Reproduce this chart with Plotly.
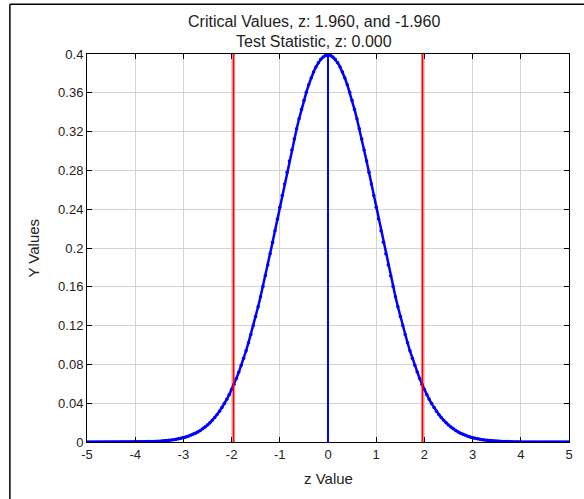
import plotly.graph_objects as go

# z grid and standard normal density
z_values = [
    -5.00, -4.95, -4.90, -4.85, -4.80, -4.75, -4.70, -4.65, -4.60, -4.55,
    -4.50, -4.45, -4.40, -4.35, -4.30, -4.25, -4.20, -4.15, -4.10, -4.05,
    -4.00, -3.95, -3.90, -3.85, -3.80, -3.75, -3.70, -3.65, -3.60, -3.55,
    -3.50, -3.45, -3.40, -3.35, -3.30, -3.25, -3.20, -3.15, -3.10, -3.05,
    -3.00, -2.95, -2.90, -2.85, -2.80, -2.75, -2.70, -2.65, -2.60, -2.55,
    -2.50, -2.45, -2.40, -2.35, -2.30, -2.25, -2.20, -2.15, -2.10, -2.05,
    -2.00, -1.95, -1.90, -1.85, -1.80, -1.75, -1.70, -1.65, -1.60, -1.55,
    -1.50, -1.45, -1.40, -1.35, -1.30, -1.25, -1.20, -1.15, -1.10, -1.05,
    -1.00, -0.95, -0.90, -0.85, -0.80, -0.75, -0.70, -0.65, -0.60, -0.55,
    -0.50, -0.45, -0.40, -0.35, -0.30, -0.25, -0.20, -0.15, -0.10, -0.05,
    0.00,
    0.05, 0.10, 0.15, 0.20, 0.25, 0.30, 0.35, 0.40, 0.45, 0.50,
    0.55, 0.60, 0.65, 0.70, 0.75, 0.80, 0.85, 0.90, 0.95, 1.00,
    1.05, 1.10, 1.15, 1.20, 1.25, 1.30, 1.35, 1.40, 1.45, 1.50,
    1.55, 1.60, 1.65, 1.70, 1.75, 1.80, 1.85, 1.90, 1.95, 2.00,
    2.05, 2.10, 2.15, 2.20, 2.25, 2.30, 2.35, 2.40, 2.45, 2.50,
    2.55, 2.60, 2.65, 2.70, 2.75, 2.80, 2.85, 2.90, 2.95, 3.00,
    3.05, 3.10, 3.15, 3.20, 3.25, 3.30, 3.35, 3.40, 3.45, 3.50,
    3.55, 3.60, 3.65, 3.70, 3.75, 3.80, 3.85, 3.90, 3.95, 4.00,
    4.05, 4.10, 4.15, 4.20, 4.25, 4.30, 4.35, 4.40, 4.45, 4.50,
    4.55, 4.60, 4.65, 4.70, 4.75, 4.80, 4.85, 4.90, 4.95, 5.00,
]
y_values = [
    0.0000, 0.0000, 0.0000, 0.0000, 0.0000, 0.0000, 0.0000, 0.0000, 0.0000, 0.0000,
    0.0000, 0.0000, 0.0000, 0.0000, 0.0000, 0.0000, 0.0001, 0.0001, 0.0001, 0.0001,
    0.0001, 0.0002, 0.0002, 0.0002, 0.0003, 0.0004, 0.0004, 0.0005, 0.0006, 0.0007,
    0.0009, 0.0010, 0.0012, 0.0015, 0.0017, 0.0020, 0.0024, 0.0028, 0.0033, 0.0038,
    0.0044, 0.0051, 0.0060, 0.0069, 0.0079, 0.0091, 0.0104, 0.0119, 0.0136, 0.0155,
    0.0175, 0.0198, 0.0224, 0.0252, 0.0283, 0.0317, 0.0355, 0.0396, 0.0440, 0.0488,
    0.0540, 0.0596, 0.0656, 0.0721, 0.0790, 0.0863, 0.0940, 0.1023, 0.1109, 0.1200,
    0.1295, 0.1394, 0.1497, 0.1604, 0.1714, 0.1826, 0.1942, 0.2059, 0.2179, 0.2299,
    0.2420, 0.2541, 0.2661, 0.2780, 0.2897, 0.3011, 0.3123, 0.3230, 0.3332, 0.3429,
    0.3521, 0.3605, 0.3683, 0.3752, 0.3814, 0.3867, 0.3910, 0.3945, 0.3970, 0.3984,
    0.3989,
    0.3984, 0.3970, 0.3945, 0.3910, 0.3867, 0.3814, 0.3752, 0.3683, 0.3605, 0.3521,
    0.3429, 0.3332, 0.3230, 0.3123, 0.3011, 0.2897, 0.2780, 0.2661, 0.2541, 0.2420,
    0.2299, 0.2179, 0.2059, 0.1942, 0.1826, 0.1714, 0.1604, 0.1497, 0.1394, 0.1295,
    0.1200, 0.1109, 0.1023, 0.0940, 0.0863, 0.0790, 0.0721, 0.0656, 0.0596, 0.0540,
    0.0488, 0.0440, 0.0396, 0.0355, 0.0317, 0.0283, 0.0252, 0.0224, 0.0198, 0.0175,
    0.0155, 0.0136, 0.0119, 0.0104, 0.0091, 0.0079, 0.0069, 0.0060, 0.0051, 0.0044,
    0.0038, 0.0033, 0.0028, 0.0024, 0.0020, 0.0017, 0.0015, 0.0012, 0.0010, 0.0009,
    0.0007, 0.0006, 0.0005, 0.0004, 0.0004, 0.0003, 0.0002, 0.0002, 0.0002, 0.0001,
    0.0001, 0.0001, 0.0001, 0.0001, 0.0000, 0.0000, 0.0000, 0.0000, 0.0000, 0.0000,
    0.0000, 0.0000, 0.0000, 0.0000, 0.0000, 0.0000, 0.0000, 0.0000, 0.0000, 0.0000,
]

critical_values = [-1.96, 1.96]
test_statistic = 0.0

x_tickvals = [-5, -4, -3, -2, -1, 0, 1, 2, 3, 4, 5]
x_ticktext = ["-5", "-4", "-3", "-2", "-1", "0", "1", "2", "3", "4", "5"]
y_tickvals = [0, 0.04, 0.08, 0.12, 0.16, 0.2, 0.24, 0.28, 0.32, 0.36, 0.4]
y_ticktext = ["0", "0.04", "0.08", "0.12", "0.16", "0.2", "0.24", "0.28", "0.32", "0.36", "0.4"]

title_1 = "Critical Values, z: %.3f, and %.3f" % (critical_values[1], critical_values[0])
title_2 = "Test Statistic, z: %.3f" % test_statistic

fig = go.Figure()
fig.add_trace(go.Scatter(
    x=z_values, y=y_values, mode="lines+markers",
    line=dict(color="#0000ff", width=2.5),
    marker=dict(color="#0000ff", size=3.5),
    showlegend=False,
))

for cv in critical_values:
    fig.add_vline(x=cv, line=dict(color="#ff0000", width=2))
fig.add_vline(x=test_statistic, line=dict(color="#0000ff", width=2))

axis_style = dict(
    showline=True, linecolor="black", linewidth=1, mirror="ticks",
    ticks="inside", ticklen=5, tickcolor="black",
    showgrid=True, gridcolor="#d3d3d3", gridwidth=1,
    zeroline=False,
    tickfont=dict(family="Liberation Sans, Arial", size=13, color="#222"),
)
fig.update_xaxes(range=[-5, 5], tickvals=x_tickvals, ticktext=x_ticktext, **axis_style)
fig.update_yaxes(range=[0, 0.4], tickvals=y_tickvals, ticktext=y_ticktext, **axis_style)

title_font = dict(family="Liberation Sans, Arial", size=16, color="#222")
text_font = dict(family="Liberation Sans, Arial", size=15, color="#222")
fig.add_annotation(text=title_1, xref="paper", yref="paper", x=0.471, y=1.083,
                   showarrow=False, font=title_font, xanchor="center", yanchor="middle")
fig.add_annotation(text=title_2, xref="paper", yref="paper", x=0.471, y=1.032,
                   showarrow=False, font=title_font, xanchor="center", yanchor="middle")
fig.add_annotation(text="z Value", xref="paper", yref="paper", x=0.5, y=-0.093,
                   showarrow=False, font=text_font, xanchor="center", yanchor="middle")
fig.add_annotation(text="Y Values", xref="paper", yref="paper", x=-0.113, y=0.5,
                   showarrow=False, font=text_font, textangle=-90,
                   xanchor="center", yanchor="middle")

# outer figure frame (left and top edges)
fig.add_shape(type="line", xref="paper", yref="paper", x0=-0.16, x1=-0.16, y0=-0.2, y1=1.128,
              line=dict(color="black", width=1.5))
fig.add_shape(type="line", xref="paper", yref="paper", x0=-0.16, x1=1.05, y0=1.128, y1=1.128,
              line=dict(color="black", width=1.5))

fig.update_layout(
    width=584, height=499,
    margin=dict(l=87, r=11, t=54, b=57),
    plot_bgcolor="white", paper_bgcolor="white",
)

fig.write_html("out.html", config={"displayModeBar": False},
               post_script="document.body.style.margin='0';")
